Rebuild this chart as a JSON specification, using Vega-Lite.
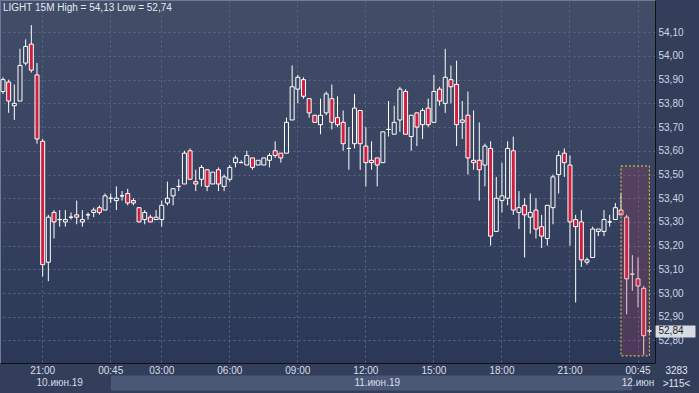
{
"$schema": "https://vega.github.io/schema/vega-lite/v6.json",
"width": 655, "height": 363,
"autosize": {"type": "none"},
"padding": {"left": 0, "top": 0, "right": 44, "bottom": 30},
"background": "#323e5a",
"title": {"text": "LIGHT 15M High = 54,13 Low = 52,74", "anchor": "start", "frame": "group", "offset": -13, "dx": 3, "fontSize": 10, "fontWeight": "normal", "color": "#e4e9f2", "font": "Liberation Sans"},
"config": {
  "font": "Liberation Sans",
  "axis": {"labelOverlap": false, "labelBound": false, "labelFlush": false},
  "view": {"fill": {"gradient": "linear", "x1": 0, "y1": 0, "x2": 0, "y2": 1, "stops": [{"offset": 0, "color": "#424d68"}, {"offset": 1, "color": "#2b3857"}]}, "stroke": "#6f7c96", "strokeWidth": 1}
},
"resolve": {"scale": {"y": "shared", "x": "shared"}, "axis": {"y": "independent", "x": "independent"}},
"datasets": {
"candles": [
{"t":"10.06 19:15","o":53.85,"h":53.91,"l":53.84,"c":53.90},
{"t":"10.06 19:30","o":53.89,"h":53.90,"l":53.76,"c":53.81},
{"t":"10.06 19:45","o":53.79,"h":53.88,"l":53.73,"c":53.80},
{"t":"10.06 20:00","o":53.81,"h":54.03,"l":53.81,"c":53.96},
{"t":"10.06 20:15","o":53.97,"h":54.07,"l":53.96,"c":54.04},
{"t":"10.06 20:30","o":54.05,"h":54.13,"l":53.93,"c":53.94},
{"t":"10.06 20:45","o":53.92,"h":53.97,"l":53.63,"c":53.65},
{"t":"10.06 21:00","o":53.64,"h":53.65,"l":53.07,"c":53.12},
{"t":"10.06 21:15","o":53.13,"h":53.33,"l":53.05,"c":53.32},
{"t":"10.06 21:30","o":53.34,"h":53.35,"l":53.23,"c":53.30},
{"t":"10.06 21:45","o":53.31,"h":53.35,"l":53.28,"c":53.31},
{"t":"10.06 22:00","o":53.30,"h":53.35,"l":53.28,"c":53.31},
{"t":"10.06 22:15","o":53.32,"h":53.34,"l":53.31,"c":53.32},
{"t":"10.06 22:30","o":53.33,"h":53.39,"l":53.29,"c":53.32},
{"t":"10.06 22:45","o":53.30,"h":53.35,"l":53.28,"c":53.31},
{"t":"10.06 23:00","o":53.33,"h":53.34,"l":53.31,"c":53.33},
{"t":"10.06 23:15","o":53.34,"h":53.36,"l":53.32,"c":53.35},
{"t":"10.06 23:30","o":53.36,"h":53.37,"l":53.33,"c":53.34},
{"t":"10.06 23:45","o":53.35,"h":53.42,"l":53.35,"c":53.41},
{"t":"11.06 00:45","o":53.40,"h":53.42,"l":53.38,"c":53.40},
{"t":"11.06 01:00","o":53.39,"h":53.45,"l":53.35,"c":53.40},
{"t":"11.06 01:15","o":53.41,"h":53.43,"l":53.39,"c":53.41},
{"t":"11.06 01:30","o":53.42,"h":53.44,"l":53.37,"c":53.38},
{"t":"11.06 01:45","o":53.39,"h":53.40,"l":53.37,"c":53.38},
{"t":"11.06 02:00","o":53.36,"h":53.36,"l":53.30,"c":53.30},
{"t":"11.06 02:15","o":53.31,"h":53.35,"l":53.29,"c":53.34},
{"t":"11.06 02:30","o":53.32,"h":53.33,"l":53.30,"c":53.30},
{"t":"11.06 02:45","o":53.31,"h":53.35,"l":53.31,"c":53.32},
{"t":"11.06 03:00","o":53.31,"h":53.39,"l":53.28,"c":53.37},
{"t":"11.06 03:15","o":53.38,"h":53.47,"l":53.37,"c":53.40},
{"t":"11.06 03:30","o":53.41,"h":53.44,"l":53.37,"c":53.44},
{"t":"11.06 03:45","o":53.45,"h":53.48,"l":53.43,"c":53.45},
{"t":"11.06 04:00","o":53.46,"h":53.60,"l":53.46,"c":53.59},
{"t":"11.06 04:15","o":53.60,"h":53.61,"l":53.48,"c":53.48},
{"t":"11.06 04:30","o":53.47,"h":53.52,"l":53.43,"c":53.46},
{"t":"11.06 04:45","o":53.48,"h":53.54,"l":53.45,"c":53.53},
{"t":"11.06 05:00","o":53.52,"h":53.52,"l":53.43,"c":53.45},
{"t":"11.06 05:15","o":53.46,"h":53.51,"l":53.46,"c":53.51},
{"t":"11.06 05:30","o":53.52,"h":53.53,"l":53.43,"c":53.46},
{"t":"11.06 05:45","o":53.45,"h":53.50,"l":53.43,"c":53.49},
{"t":"11.06 06:00","o":53.48,"h":53.54,"l":53.47,"c":53.53},
{"t":"11.06 06:15","o":53.55,"h":53.58,"l":53.53,"c":53.57},
{"t":"11.06 06:30","o":53.55,"h":53.56,"l":53.55,"c":53.55},
{"t":"11.06 06:45","o":53.54,"h":53.60,"l":53.54,"c":53.58},
{"t":"11.06 07:00","o":53.57,"h":53.57,"l":53.52,"c":53.53},
{"t":"11.06 07:15","o":53.54,"h":53.56,"l":53.54,"c":53.56},
{"t":"11.06 07:30","o":53.54,"h":53.57,"l":53.54,"c":53.57},
{"t":"11.06 07:45","o":53.56,"h":53.59,"l":53.53,"c":53.58},
{"t":"11.06 08:00","o":53.60,"h":53.64,"l":53.57,"c":53.58},
{"t":"11.06 08:15","o":53.59,"h":53.59,"l":53.55,"c":53.57},
{"t":"11.06 08:30","o":53.59,"h":53.74,"l":53.59,"c":53.72},
{"t":"11.06 08:45","o":53.73,"h":53.96,"l":53.73,"c":53.87},
{"t":"11.06 09:00","o":53.86,"h":53.92,"l":53.80,"c":53.91},
{"t":"11.06 09:15","o":53.90,"h":53.91,"l":53.82,"c":53.83},
{"t":"11.06 09:30","o":53.82,"h":53.82,"l":53.74,"c":53.76},
{"t":"11.06 09:45","o":53.75,"h":53.75,"l":53.72,"c":53.72},
{"t":"11.06 10:00","o":53.71,"h":53.82,"l":53.67,"c":53.75},
{"t":"11.06 10:15","o":53.76,"h":53.85,"l":53.75,"c":53.84},
{"t":"11.06 10:30","o":53.82,"h":53.88,"l":53.69,"c":53.72},
{"t":"11.06 10:45","o":53.74,"h":53.83,"l":53.70,"c":53.71},
{"t":"11.06 11:00","o":53.72,"h":53.77,"l":53.60,"c":53.63},
{"t":"11.06 11:15","o":53.61,"h":53.70,"l":53.52,"c":53.61},
{"t":"11.06 11:30","o":53.63,"h":53.84,"l":53.61,"c":53.78},
{"t":"11.06 11:45","o":53.77,"h":53.77,"l":53.52,"c":53.63},
{"t":"11.06 12:00","o":53.62,"h":53.70,"l":53.45,"c":53.55},
{"t":"11.06 12:15","o":53.56,"h":53.64,"l":53.52,"c":53.55},
{"t":"11.06 12:30","o":53.57,"h":53.57,"l":53.45,"c":53.54},
{"t":"11.06 12:45","o":53.55,"h":53.68,"l":53.55,"c":53.68},
{"t":"11.06 13:00","o":53.69,"h":53.81,"l":53.66,"c":53.69},
{"t":"11.06 13:15","o":53.67,"h":53.79,"l":53.67,"c":53.72},
{"t":"11.06 13:30","o":53.73,"h":53.87,"l":53.68,"c":53.86},
{"t":"11.06 13:45","o":53.85,"h":53.86,"l":53.67,"c":53.67},
{"t":"11.06 14:00","o":53.66,"h":53.75,"l":53.60,"c":53.75},
{"t":"11.06 14:15","o":53.76,"h":53.76,"l":53.62,"c":53.70},
{"t":"11.06 14:30","o":53.71,"h":53.78,"l":53.65,"c":53.77},
{"t":"11.06 14:45","o":53.78,"h":53.82,"l":53.70,"c":53.71},
{"t":"11.06 15:00","o":53.72,"h":53.92,"l":53.72,"c":53.85},
{"t":"11.06 15:15","o":53.86,"h":53.87,"l":53.79,"c":53.81},
{"t":"11.06 15:30","o":53.80,"h":54.03,"l":53.76,"c":53.91},
{"t":"11.06 15:45","o":53.90,"h":53.96,"l":53.80,"c":53.87},
{"t":"11.06 16:00","o":53.88,"h":53.98,"l":53.62,"c":53.71},
{"t":"11.06 16:15","o":53.72,"h":53.81,"l":53.65,"c":53.73},
{"t":"11.06 16:30","o":53.75,"h":53.85,"l":53.50,"c":53.57},
{"t":"11.06 16:45","o":53.56,"h":53.77,"l":53.52,"c":53.55},
{"t":"11.06 17:00","o":53.56,"h":53.72,"l":53.39,"c":53.52},
{"t":"11.06 17:15","o":53.54,"h":53.63,"l":53.45,"c":53.62},
{"t":"11.06 17:30","o":53.61,"h":53.64,"l":53.20,"c":53.24},
{"t":"11.06 17:45","o":53.26,"h":53.49,"l":53.26,"c":53.40},
{"t":"11.06 18:00","o":53.39,"h":53.55,"l":53.34,"c":53.41},
{"t":"11.06 18:15","o":53.40,"h":53.64,"l":53.37,"c":53.61},
{"t":"11.06 18:30","o":53.60,"h":53.66,"l":53.33,"c":53.35},
{"t":"11.06 18:45","o":53.34,"h":53.43,"l":53.27,"c":53.36},
{"t":"11.06 19:00","o":53.37,"h":53.40,"l":53.15,"c":53.33},
{"t":"11.06 19:15","o":53.32,"h":53.42,"l":53.25,"c":53.34},
{"t":"11.06 19:30","o":53.35,"h":53.40,"l":53.23,"c":53.27},
{"t":"11.06 19:45","o":53.28,"h":53.33,"l":53.19,"c":53.24},
{"t":"11.06 20:00","o":53.23,"h":53.37,"l":53.20,"c":53.37},
{"t":"11.06 20:15","o":53.36,"h":53.50,"l":53.29,"c":53.49},
{"t":"11.06 20:30","o":53.50,"h":53.60,"l":53.42,"c":53.58},
{"t":"11.06 20:45","o":53.59,"h":53.61,"l":53.49,"c":53.55},
{"t":"11.06 21:00","o":53.54,"h":53.58,"l":53.20,"c":53.30},
{"t":"11.06 21:15","o":53.31,"h":53.33,"l":52.96,"c":53.28},
{"t":"11.06 21:30","o":53.30,"h":53.35,"l":53.11,"c":53.14},
{"t":"11.06 21:45","o":53.13,"h":53.15,"l":53.12,"c":53.14},
{"t":"11.06 22:00","o":53.15,"h":53.28,"l":53.15,"c":53.27},
{"t":"11.06 22:15","o":53.26,"h":53.27,"l":53.24,"c":53.27},
{"t":"11.06 22:30","o":53.26,"h":53.35,"l":53.24,"c":53.31},
{"t":"11.06 22:45","o":53.30,"h":53.33,"l":53.28,"c":53.30},
{"t":"11.06 23:00","o":53.31,"h":53.38,"l":53.31,"c":53.36},
{"t":"11.06 23:15","o":53.35,"h":53.42,"l":53.33,"c":53.33},
{"t":"11.06 23:30","o":53.32,"h":53.33,"l":52.91,"c":53.06},
{"t":"11.06 23:45","o":53.08,"h":53.16,"l":53.01,"c":53.08},
{"t":"12.06 00:45","o":53.06,"h":53.15,"l":52.94,"c":53.03},
{"t":"12.06 01:00","o":53.02,"h":53.03,"l":52.74,"c":52.82},
{"t":"12.06 01:15","o":52.84,"h":52.85,"l":52.83,"c":52.84}
],
"box": [{"t1": "11.06 23:15", "t2": "12.06 01:15", "p1": 53.536, "p2": 52.735}],
"last": [{"t": "12.06 01:15", "price": 52.84}]
},
"layer": [
{
  "data": {"name": "candles"},
  "mark": {"type": "rule", "color": "#ffffff", "strokeWidth": 1},
  "encoding": {
    "x": {"field": "t", "type": "ordinal",
      "scale": {"type": "band", "paddingInner": 0, "paddingOuter": 0.26, "align": 0.05},
      "axis": {"orient": "bottom", "offset": 12, "title": null, "values": ["11.06 12:15"],
        "labels": false, "grid": false, "domain": false,
        "ticks": true, "tickSize": 15, "tickWidth": 521, "tickColor": "#4a5876", "tickCap": "butt"}
    },
    "y": {"field": "l", "type": "quantitative",
      "scale": {"domain": [52.705, 54.236], "nice": false, "zero": false},
      "axis": {"orient": "right",
        "values": [52.8, 52.9, 53, 53.1, 53.2, 53.3, 53.4, 53.5, 53.6, 53.7, 53.8, 53.9, 54, 54.1],
        "labelExpr": "replace(format(datum.value, '.2f'), '.', ',')",
        "labelOverlap": false, "labelFontSize": 10, "labelPadding": 3, "labelFont": "Liberation Sans", "labelColor": "#cfd6e4",
        "ticks": false,
        "domain": true, "domainColor": "#111111", "domainWidth": 1,
        "grid": true, "gridColor": "#5b6884", "gridDash": [2, 3], "gridWidth": 1,
        "title": ["3283", ">115<"], "titleAngle": 0, "titleX": 21, "titleY": 365, "titleAlign": "center", "titleBaseline": "top",
        "titleFontSize": 10, "titleFontWeight": "normal", "titleColor": "#e0e6f0", "titleLineHeight": 13, "titleFont": "Liberation Sans"
      }
    },
    "y2": {"field": "h"}
  }
},
{
  "data": {"name": "candles"},
  "mark": {"type": "bar", "size": 4, "stroke": "#ffffff", "strokeWidth": 1},
  "encoding": {
    "x": {"field": "t", "type": "ordinal",
      "axis": {"orient": "bottom", "title": null,
        "values": ["10.06 21:00","10.06 21:45","11.06 00:45","11.06 03:00","11.06 06:00","11.06 09:00","11.06 12:00","11.06 12:30","11.06 15:00","11.06 18:00","11.06 21:00","12.06 00:45"],
        "labelExpr": "datum.value == '10.06 21:45' ? ['', '10.июн.19'] : datum.value == '11.06 12:30' ? ['', '11.июн.19'] : datum.value == '12.06 00:45' ? ['00:45', '12.июн'] : slice(datum.value, 6)",
        "labelAngle": 0, "labelOverlap": false, "labelBaseline": "top", "labelFontSize": 10, "labelLineHeight": 12, "labelPadding": 2, "labelColor": "#d7deea", "labelFont": "Liberation Sans",
        "ticks": false, "domain": true, "domainColor": "#111111", "domainWidth": 1,
        "grid": true, "gridColor": "#5b6884", "gridDash": [2, 3], "gridWidth": 1,
        "gridOpacity": {"condition": {"test": "datum.value == '10.06 21:45' || datum.value == '11.06 12:30'", "value": 0}, "value": 1}
      }
    },
    "y": {"field": "o", "type": "quantitative", "axis": null},
    "y2": {"field": "c"},
    "fill": {
      "condition": {"test": "datum.c < datum.o", "value": "#cf1f3d"},
      "field": "o", "type": "quantitative",
      "scale": {"domain": [52.705, 54.236], "range": ["#2b3857", "#424d68"], "interpolate": "rgb", "clamp": true},
      "legend": null
    }
  }
},
{
  "data": {"name": "box"},
  "mark": {"type": "rect", "fill": "#b04060", "fillOpacity": 0.25, "stroke": "#e2dc3a", "strokeDash": [2, 2], "strokeWidth": 1},
  "encoding": {
    "x": {"field": "t1", "type": "ordinal", "bandPosition": 0.5, "axis": null},
    "x2": {"field": "t2", "bandPosition": 0.5},
    "y": {"field": "p1", "type": "quantitative", "axis": null},
    "y2": {"field": "p2"}
  }
},
{
  "data": {"name": "last"},
  "mark": {"type": "tick", "color": "#ffffff", "opacity": 0, "thickness": 1, "size": 5, "orient": "horizontal"},
  "encoding": {
    "x": {"field": "t", "type": "ordinal", "axis": null},
    "y": {"field": "price", "type": "quantitative",
      "axis": {"orient": "right", "values": [52.84], "title": null, "grid": false, "domain": false,
        "labelExpr": "replace(format(datum.value, '.2f'), '.', ',')",
        "labelFontSize": 10, "labelFont": "Liberation Sans", "labelColor": "#1e1e1e", "labelPadding": -37,
        "ticks": true, "tickSize": 40, "tickWidth": 12, "tickColor": "#d6dbe4", "tickCap": "butt"
      }
    }
  }
}
]
}
